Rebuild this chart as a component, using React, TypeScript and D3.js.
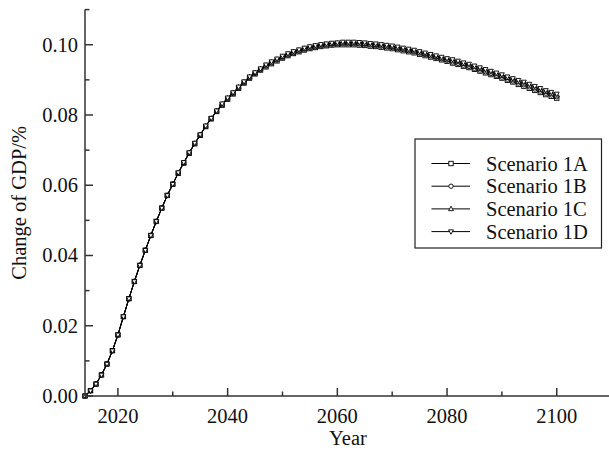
import React from "react";
import * as d3 from "d3";

const years: number[] = d3.range(2014, 2101);

const scenario1A: number[] = [
  0.0000, 0.0015, 0.0034, 0.0060, 0.0091, 0.0129, 0.0174, 0.0226, 0.0277, 0.0326,
  0.0372, 0.0415, 0.0457, 0.0497, 0.0535, 0.0571, 0.0603,
  0.0634, 0.0663, 0.0691, 0.0718, 0.0742, 0.0767, 0.0789, 0.0810,
  0.0828, 0.0845, 0.0860, 0.0876, 0.0891, 0.0905, 0.0917, 0.0928,
  0.0937, 0.0946, 0.0954, 0.0962, 0.0969, 0.0975, 0.0980, 0.0985, 0.0989, 0.0992, 0.0995, 0.0997, 0.0999, 0.1000,
  0.1000, 0.1000, 0.1000, 0.0999, 0.0998, 0.0996, 0.0995, 0.0993, 0.0991, 0.0989,
  0.0986, 0.0983, 0.0980, 0.0977, 0.0973, 0.0969, 0.0965, 0.0961, 0.0957, 0.0953,
  0.0948, 0.0944, 0.0939, 0.0935, 0.0930, 0.0925, 0.0920, 0.0915, 0.0910, 0.0905, 0.0899, 0.0894,
  0.0887, 0.0882, 0.0876, 0.0870, 0.0864, 0.0858, 0.0853, 0.0848,
];

const scenario1B: number[] = [
  0.0000, 0.0015, 0.0034, 0.0060, 0.0091, 0.0129, 0.0174, 0.0226, 0.0277, 0.0326,
  0.0372, 0.0415, 0.0457, 0.0497, 0.0535, 0.0571, 0.0603,
  0.0635, 0.0664, 0.0692, 0.0719, 0.0743, 0.0768, 0.0790, 0.0811,
  0.0829, 0.0846, 0.0861, 0.0877, 0.0892, 0.0906, 0.0918, 0.0929,
  0.0939, 0.0948, 0.0956, 0.0964, 0.0971, 0.0977, 0.0982, 0.0987, 0.0991, 0.0994, 0.0997, 0.0999, 0.1001, 0.1002,
  0.1003, 0.1003, 0.1003, 0.1002, 0.1001, 0.0999, 0.0998, 0.0996, 0.0994, 0.0992,
  0.0989, 0.0986, 0.0983, 0.0980, 0.0976, 0.0972, 0.0968, 0.0964, 0.0960, 0.0956,
  0.0951, 0.0947, 0.0942, 0.0938, 0.0933, 0.0928, 0.0923, 0.0918, 0.0913, 0.0908, 0.0902, 0.0897,
  0.0891, 0.0886, 0.0880, 0.0874, 0.0868, 0.0862, 0.0857, 0.0852,
];

const scenario1C: number[] = [
  0.0000, 0.0015, 0.0034, 0.0060, 0.0091, 0.0129, 0.0174, 0.0226, 0.0277, 0.0326,
  0.0372, 0.0415, 0.0457, 0.0497, 0.0535, 0.0571, 0.0603,
  0.0635, 0.0664, 0.0692, 0.0719, 0.0743, 0.0768, 0.0790, 0.0811,
  0.0831, 0.0848, 0.0863, 0.0879, 0.0894, 0.0908, 0.0920, 0.0931,
  0.0941, 0.0950, 0.0958, 0.0966, 0.0973, 0.0979, 0.0984, 0.0989, 0.0993, 0.0996, 0.0999, 0.1001, 0.1003, 0.1004,
  0.1005, 0.1005, 0.1005, 0.1004, 0.1003, 0.1001, 0.1000, 0.0998, 0.0996, 0.0994,
  0.0991, 0.0988, 0.0985, 0.0982, 0.0978, 0.0974, 0.0970, 0.0966, 0.0962, 0.0958,
  0.0955, 0.0951, 0.0946, 0.0942, 0.0937, 0.0932, 0.0927, 0.0922, 0.0917, 0.0912, 0.0906, 0.0901,
  0.0895, 0.0890, 0.0884, 0.0878, 0.0872, 0.0866, 0.0861, 0.0856,
];

const scenario1D: number[] = [
  0.0000, 0.0015, 0.0034, 0.0060, 0.0091, 0.0129, 0.0174, 0.0226, 0.0277, 0.0326,
  0.0372, 0.0415, 0.0457, 0.0497, 0.0535, 0.0571, 0.0603,
  0.0636, 0.0665, 0.0693, 0.0720, 0.0744, 0.0769, 0.0791, 0.0812,
  0.0832, 0.0849, 0.0864, 0.0880, 0.0895, 0.0909, 0.0921, 0.0932,
  0.0943, 0.0952, 0.0960, 0.0968, 0.0975, 0.0981, 0.0986, 0.0991, 0.0995, 0.0998, 0.1001, 0.1003, 0.1005, 0.1006,
  0.1008, 0.1008, 0.1008, 0.1007, 0.1006, 0.1004, 0.1003, 0.1001, 0.0999, 0.0997,
  0.0994, 0.0991, 0.0988, 0.0985, 0.0981, 0.0977, 0.0973, 0.0969, 0.0965, 0.0961,
  0.0958, 0.0954, 0.0949, 0.0945, 0.0940, 0.0935, 0.0930, 0.0925, 0.0920, 0.0915, 0.0909, 0.0904,
  0.0899, 0.0894, 0.0888, 0.0882, 0.0876, 0.0870, 0.0865, 0.0860,
];

const seriesNames = ["Scenario 1A", "Scenario 1B", "Scenario 1C", "Scenario 1D"];
const seriesValues = [scenario1A, scenario1B, scenario1C, scenario1D];
const seriesSymbols = ["square", "circle", "triangleUp", "triangleDown"];

const xMajorTicks = [2020, 2040, 2060, 2080, 2100];
const xMinorTicks = [2030, 2050, 2070, 2090];
const yMajorTicks = [0, 0.02, 0.04, 0.06, 0.08, 0.1];
const yMinorTicks = [0.01, 0.03, 0.05, 0.07, 0.09, 0.11];

const W = 609;
const H = 454;
const FONT = "'Liberation Serif', 'Times New Roman', serif";

function Marker({ kind, x, y }: { kind: string; x: number; y: number }) {
  const s = 2.2;
  const common = { fill: "#fff", stroke: "#000", strokeWidth: 0.9 };
  if (kind === "square")
    return <rect x={x - s} y={y - s} width={2 * s} height={2 * s} {...common} />;
  if (kind === "circle") return <circle cx={x} cy={y} r={s} {...common} />;
  if (kind === "triangleUp")
    return (
      <path
        d={`M${x},${y - s * 1.2}L${x + s * 1.1},${y + s * 0.8}L${x - s * 1.1},${y + s * 0.8}Z`}
        {...common}
      />
    );
  return (
    <path
      d={`M${x},${y + s * 1.2}L${x + s * 1.1},${y - s * 0.8}L${x - s * 1.1},${y - s * 0.8}Z`}
      {...common}
    />
  );
}

export default function App() {
  const x = d3.scaleLinear().domain([2014, 2110]).range([85, 611.6]);
  const y = d3.scaleLinear().domain([0, 0.11]).range([396, 9.6]);
  const line = d3
    .line<number>()
    .x((_, i) => x(years[i]))
    .y((v) => y(v));

  const axisColor = "#333";
  const legendX = 415;
  const legendY = 139;
  const rowY = [163.5, 186.2, 208.9, 231.6];
  const textStyle = { fontFamily: FONT };

  return (
    <svg
      width={W}
      height={H}
      style={{ position: "absolute", left: 0, top: 0, background: "#fff" }}
      fontFamily={FONT}
    >
      <rect x={0} y={0} width={W} height={H} fill="#fff" />
      {/* series */}
      {seriesValues.map((vals, si) => (
        <g key={si}>
          <path d={line(vals) || ""} fill="none" stroke="#000" strokeWidth={1} />
          {vals.map((v, i) => (
            <Marker key={i} kind={seriesSymbols[si]} x={x(years[i])} y={y(v)} />
          ))}
        </g>
      ))}

      {/* axes */}
      <line x1={85} x2={W} y1={396} y2={396} stroke={axisColor} strokeWidth={1.5} />
      <line x1={85} x2={85} y1={9.6} y2={396} stroke={axisColor} strokeWidth={1.5} />
      {xMajorTicks.map((t) => (
        <g key={t}>
          <line x1={x(t)} x2={x(t)} y1={396} y2={388} stroke={axisColor} strokeWidth={1.5} />
          <text x={x(t)} y={423} textAnchor="middle" fontSize={20.5} fill="#111" style={textStyle}>
            {t}
          </text>
        </g>
      ))}
      {xMinorTicks.map((t) => (
        <line key={t} x1={x(t)} x2={x(t)} y1={396} y2={391.5} stroke={axisColor} strokeWidth={1.5} />
      ))}
      {yMajorTicks.map((t) => (
        <g key={t}>
          <line x1={85} x2={93} y1={y(t)} y2={y(t)} stroke={axisColor} strokeWidth={1.5} />
          <text x={78} y={y(t) + 7} textAnchor="end" fontSize={20.5} fill="#111" style={textStyle}>
            {t.toFixed(2)}
          </text>
        </g>
      ))}
      {yMinorTicks.map((t) => (
        <line key={t} x1={85} x2={89.5} y1={y(t)} y2={y(t)} stroke={axisColor} strokeWidth={1.5} />
      ))}

      {/* axis titles */}
      <text x={348} y={445} textAnchor="middle" fontSize={20.5} fill="#111" style={textStyle}>
        Year
      </text>
      <text
        transform={`translate(26,${y(0.055)}) rotate(-90)`}
        textAnchor="middle"
        fontSize={20.5}
        fill="#111"
        style={textStyle}
      >
        Change of GDP/%
      </text>

      {/* legend */}
      <rect
        x={legendX}
        y={legendY}
        width={186.5}
        height={109}
        fill="#fff"
        stroke="#222"
        strokeWidth={1.2}
      />
      {seriesNames.map((name, i) => (
        <g key={name}>
          <line x1={431.5} x2={470} y1={rowY[i]} y2={rowY[i]} stroke="#000" strokeWidth={1} />
          <Marker kind={seriesSymbols[i]} x={451} y={rowY[i]} />
          <text x={486} y={rowY[i] + 7} fontSize={20.5} fill="#111" style={textStyle}>
            {name}
          </text>
        </g>
      ))}
    </svg>
  );
}
